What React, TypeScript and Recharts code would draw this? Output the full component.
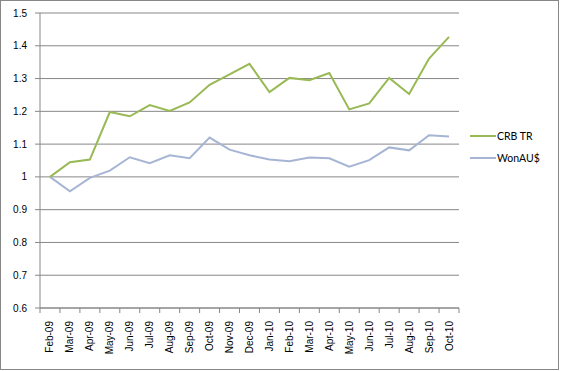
import React from "react";
import { LineChart, Line, XAxis, YAxis, CartesianGrid, Legend } from "recharts";

const months = [
  "Feb-09", "Mar-09", "Apr-09", "May-09", "Jun-09", "Jul-09", "Aug-09", "Sep-09", "Oct-09", "Nov-09", "Dec-09",
  "Jan-10", "Feb-10", "Mar-10", "Apr-10", "May-10", "Jun-10", "Jul-10", "Aug-10", "Sep-10", "Oct-10",
];
const crbTR = [1.0, 1.045, 1.053, 1.198, 1.185, 1.219, 1.201, 1.227, 1.281, 1.313, 1.345, 1.259, 1.302, 1.295, 1.317, 1.206, 1.224, 1.302, 1.253, 1.361, 1.427];
const wonAUD = [1.0, 0.956, 0.997, 1.019, 1.06, 1.042, 1.066, 1.057, 1.12, 1.083, 1.066, 1.053, 1.048, 1.059, 1.057, 1.031, 1.051, 1.09, 1.081, 1.127, 1.123];
const yTicks = [0.6, 0.7, 0.8, 0.9, 1, 1.1, 1.2, 1.3, 1.4, 1.5];

const data = months.map((m, i) => ({ month: m, crb: crbTR[i], won: wonAUD[i] }));

const GRID = "#878787";
const FONT = "'Liberation Sans', Arial, sans-serif";

const XTick = (props: any) => {
  const { x, y, payload, index, visibleTicksCount, width } = props;
  const half = payload && typeof payload.offset === "number" && payload.offset > 0
    ? payload.offset
    : width / visibleTicksCount / 2;
  const isLast = index === visibleTicksCount - 1;
  return (
    <g>
      <line x1={x - half} x2={x - half} y1={y} y2={y + 5} stroke={GRID} />
      {isLast && <line x1={x + half} x2={x + half} y1={y} y2={y + 5} stroke={GRID} />}
      <text
        x={x}
        y={y + 13}
        transform={`rotate(-90, ${x}, ${y + 13})`}
        textAnchor="end"
        dy="0.35em"
        fontSize={10}
        fontFamily={FONT}
        fill="#000"
      >
        {payload.value}
      </text>
    </g>
  );
};

const LegendContent = (props: any) => {
  const { payload } = props;
  return (
    <div>
      {(payload || []).map((p: any) => (
        <div key={p.value} style={{ height: 22, display: "flex", alignItems: "center" }}>
          <div style={{ width: 26, height: 2, background: p.color, marginRight: 1 }} />
          <span style={{ fontFamily: "Lato, 'Open Sans', sans-serif", fontSize: 10.5, color: "#000", whiteSpace: "nowrap" }}>
            {p.value}
          </span>
        </div>
      ))}
    </div>
  );
};

export default function App() {
  return (
    <div style={{ position: "absolute", left: 0, top: 0, width: 561, height: 371, background: "#fff" }}>
      <div
        style={{
          position: "absolute",
          left: 0,
          top: 0,
          width: 559,
          height: 370,
          border: `1px solid ${GRID}`,
          boxSizing: "border-box",
        }}
      />
      <div style={{ position: "absolute", left: 0, top: 0 }}>
        <LineChart width={561} height={371} data={data} margin={{ top: 13, right: 102, bottom: 0, left: 0 }}>
          <CartesianGrid vertical={false} stroke={GRID} strokeWidth={1} />
          <XAxis
            dataKey="month"
            scale="band"
            interval={0}
            height={63}
            tickSize={0}
            tickMargin={0}
            tickLine={false}
            axisLine={{ stroke: GRID }}
            tick={<XTick />}
          />
          <YAxis
            domain={[0.6, 1.5]}
            ticks={yTicks}
            width={40}
            tickSize={5}
            tickMargin={8}
            axisLine={{ stroke: GRID }}
            tickLine={{ stroke: GRID }}
            tick={{ fontSize: 10, fontFamily: FONT, fill: "#000" }}
            tickFormatter={(v: number) => String(v)}
          />
          <Legend
            layout="vertical"
            align="center"
            verticalAlign="middle"
            content={<LegendContent />}
            wrapperStyle={{ left: 470, top: 125, width: 90 }}
          />
          <Line
            type="linear"
            dataKey="won"
            name="WonAU$"
            stroke="#A6B5D4"
            strokeWidth={2}
            dot={false}
            isAnimationActive={false}
          />
          <Line
            type="linear"
            dataKey="crb"
            name="CRB TR"
            stroke="#98B954"
            strokeWidth={2}
            dot={false}
            isAnimationActive={false}
          />
        </LineChart>
      </div>
    </div>
  );
}
